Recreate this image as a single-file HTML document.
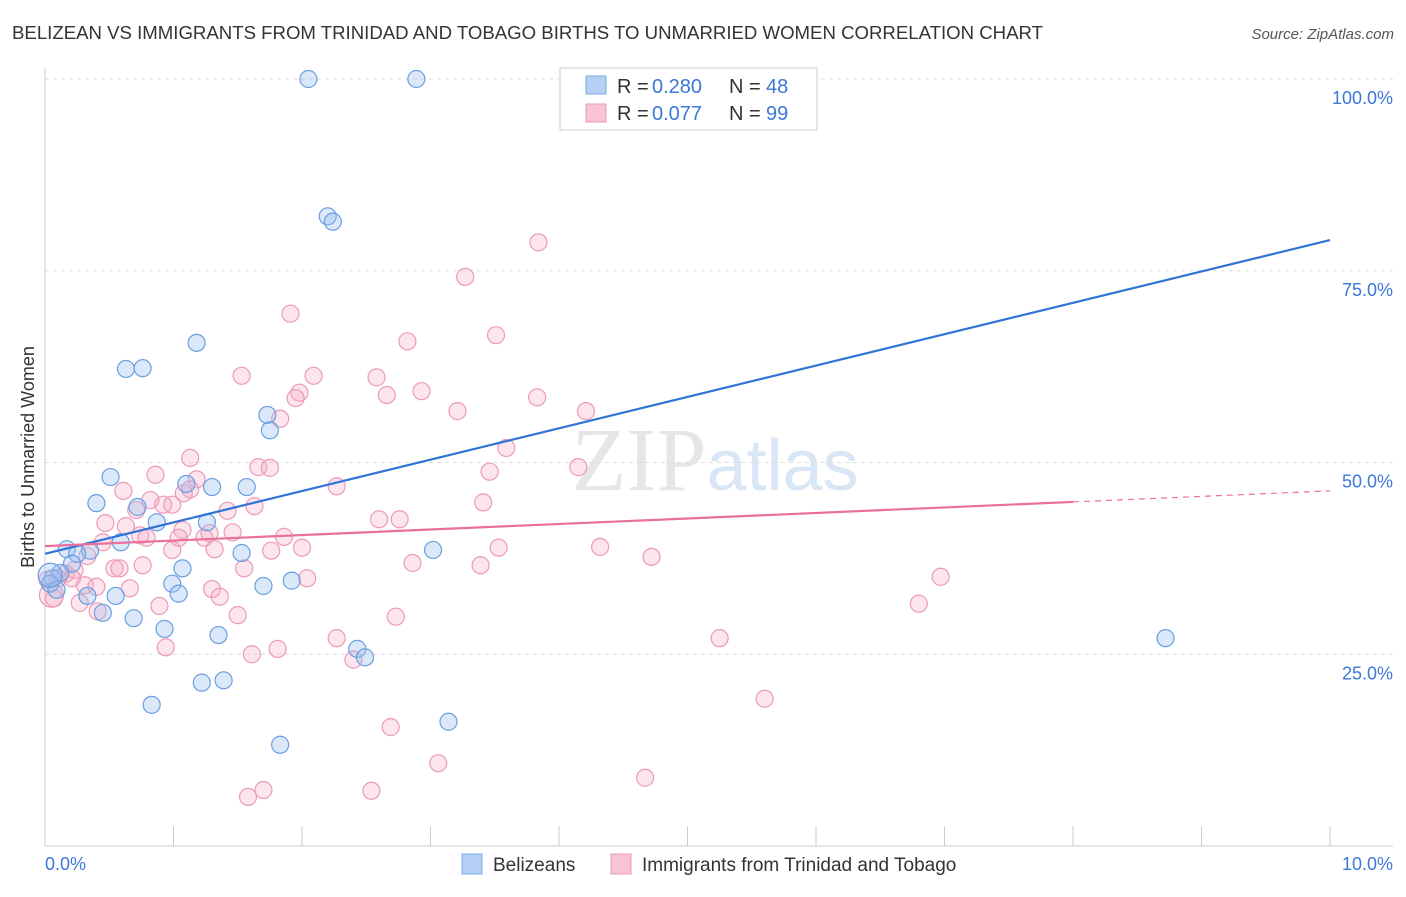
<!DOCTYPE html>
<html><head><meta charset="utf-8"><style>
body{margin:0;background:#fff;font-family:"Liberation Sans",sans-serif;}
</style></head><body>
<svg id="chart" width="1406" height="892" xmlns="http://www.w3.org/2000/svg" font-family="Liberation Sans, sans-serif">
<text x="12" y="39" font-size="18.5" fill="#333" textLength="1031" lengthAdjust="spacingAndGlyphs">BELIZEAN VS IMMIGRANTS FROM TRINIDAD AND TOBAGO BIRTHS TO UNMARRIED WOMEN CORRELATION CHART</text>
<text x="1394" y="39" font-size="15" fill="#555" text-anchor="end" font-style="italic">Source: ZipAtlas.com</text>
<text x="715" y="490" font-size="90" text-anchor="middle" fill="#e6e6e6" font-family="Liberation Serif, serif">ZIP<tspan fill="#d8e6f6" font-family="Liberation Sans, sans-serif" font-size="72">atlas</tspan></text>
<g id="grid"></g>
<g id="axes"></g>
<g id="pts"></g>
<g id="lines"></g>
<text transform="translate(34,457) rotate(-90)" font-size="18" fill="#333" text-anchor="middle">Births to Unmarried Women</text>
<g>
<rect x="560" y="68" width="257" height="62" fill="#fff" stroke="#ccc"/>
<rect x="586" y="76" width="20" height="18" fill="#b4d0f4" stroke="#7aa8e4"/>
<rect x="586" y="104" width="20" height="18" fill="#f8c4d4" stroke="#ec9ab8"/>
<text x="617" y="93" font-size="20" fill="#333">R =</text>
<text x="652" y="93" font-size="20" fill="#3b78d8">0.280</text>
<text x="729" y="93" font-size="20" fill="#333">N =</text>
<text x="766" y="93" font-size="20" fill="#3b78d8">48</text>
<text x="617" y="120" font-size="20" fill="#333">R =</text>
<text x="652" y="120" font-size="20" fill="#3b78d8">0.077</text>
<text x="729" y="120" font-size="20" fill="#333">N =</text>
<text x="766" y="120" font-size="20" fill="#3b78d8">99</text>
</g>
<g>
<rect x="462" y="854" width="20" height="20" fill="#b4d0f4" stroke="#7aa8e4"/>
<text x="493" y="871" font-size="19" fill="#333">Belizeans</text>
<rect x="611" y="854" width="20" height="20" fill="#f8c4d4" stroke="#ec9ab8"/>
<text x="642" y="871" font-size="19" fill="#333">Immigrants from Trinidad and Tobago</text>
</g>
</svg>
<script>
const blueX=[2.05,2.89,2.20,2.24,1.18,0.63,0.76,1.73,1.75,0.51,0.40,0.72,1.10,1.30,1.57,0.87,1.26,0.59,0.17,0.35,0.25,0.21,0.12,0.06,0.04,0.09,0.33,0.55,0.45,0.69,0.99,1.07,1.04,1.53,1.70,1.92,3.02,0.93,1.35,2.43,2.49,1.22,1.39,0.83,1.83,3.14,8.72,0.04];
const blueY=[100,100,82.1,81.4,65.6,62.2,62.3,56.2,54.2,48.1,44.7,44.2,47.2,46.8,46.8,42.2,42.2,39.6,38.7,38.5,38.1,36.8,35.6,34.9,34.2,33.4,32.6,32.6,30.4,29.7,34.2,36.2,32.9,38.2,33.9,34.6,38.6,28.3,27.5,25.7,24.6,21.3,21.6,18.4,13.2,16.2,27.1,35.3];
const pinkX=[3.84,3.27,1.91,3.51,2.82,1.53,2.09,2.58,2.93,1.98,1.95,2.66,3.83,3.21,4.21,1.83,3.59,1.13,1.66,1.75,4.15,3.46,0.86,1.18,2.27,0.61,1.08,1.13,0.82,0.92,0.71,0.99,1.63,3.41,1.42,2.6,2.76,0.47,0.63,1.07,1.28,1.46,0.74,1.04,1.24,1.86,0.45,0.79,0.99,1.32,2.0,1.76,3.53,4.32,4.72,0.33,2.86,3.39,0.76,0.54,0.58,1.55,0.23,0.16,0.10,0.02,0.21,2.04,6.97,0.31,0.40,0.66,1.30,1.36,0.07,0.27,0.89,6.80,0.41,1.50,2.73,2.27,5.25,0.94,1.61,1.81,2.40,5.60,2.69,3.06,4.67,1.70,1.58,2.54,0.05];
const pinkY=[78.7,74.2,69.4,66.6,65.8,61.3,61.3,61.1,59.3,59.1,58.4,58.8,58.5,56.7,56.7,55.7,51.9,50.6,49.4,49.3,49.4,48.8,48.4,47.8,46.9,46.3,46.0,46.5,45.1,44.5,43.8,44.5,44.3,44.8,43.7,42.6,42.6,42.1,41.7,41.2,40.8,40.9,40.5,40.2,40.2,40.3,39.6,40.2,38.6,38.7,38.9,38.5,38.9,39.0,37.7,37.8,36.9,36.6,36.6,36.2,36.2,36.2,36.0,35.5,34.9,34.7,34.9,34.9,35.1,34.0,33.8,33.6,33.5,32.5,32.3,31.7,31.3,31.6,30.6,30.1,29.9,27.1,27.1,25.9,25.0,25.7,24.3,19.2,15.5,10.8,8.9,7.3,6.4,7.2,32.7];
const yTicks=[100,75,50,25];
const yTickLabels=["100.0%","75.0%","50.0%","25.0%"];
const blueLine=[38.1,79.0];
const pinkLine=[39.1,46.3];
const NS="http://www.w3.org/2000/svg";
const sx=v=>45+v*128.5;
const sy=v=>846-v*7.67;
function mk(t,a,p){const e=document.createElementNS(NS,t);for(const k in a)e.setAttribute(k,a[k]);p.appendChild(e);return e;}
const grid=document.getElementById('grid'),axes=document.getElementById('axes'),pts=document.getElementById('pts'),lines=document.getElementById('lines');
yTicks.forEach((t,i)=>{
 const l=mk('line',{x1:45,x2:1393,y1:sy(t),y2:sy(t),stroke:'#ddd','stroke-dasharray':'4,4'},grid);
 
 
 const tx=mk('text',{x:1393,y:sy(t)+25,'font-size':18,fill:'#3b78d8','text-anchor':'end'},axes);
 tx.textContent=yTickLabels[i];
 
 
});
const ax=mk('line',{x1:45,x2:1393,y1:846,y2:846,stroke:'#ccc'},axes);


const ay=mk('line',{x1:45,x2:45,y1:68,y2:846,stroke:'#ccc'},axes);


for(let i=1;i<=10;i++){const tk=mk('line',{x1:sx(i),x2:sx(i),y1:826,y2:846,stroke:'#ccc'},axes);
 
 }
const xl0=mk('text',{x:45,y:870,'font-size':18,fill:'#3b78d8'},axes);xl0.textContent='0.0%';


const xl1=mk('text',{x:1393,y:870,'font-size':18,fill:'#3b78d8','text-anchor':'end'},axes);xl1.textContent='10.0%';


pinkX.forEach((x,i)=>{const c=mk('circle',{cx:sx(x),cy:sy(pinkY[i]),r:i==pinkX.length-1?12:8.5,fill:'rgba(244,170,196,0.3)',stroke:'#ec9ab8','stroke-width':1.2},pts);
 
 });
blueX.forEach((x,i)=>{const c=mk('circle',{cx:sx(x),cy:sy(blueY[i]),r:i==blueX.length-1?12:8.5,fill:'rgba(150,190,240,0.35)',stroke:'#6a9fe0','stroke-width':1.2},pts);
 
 });
const bl=mk('line',{x1:sx(0),y1:sy(blueLine[0]),x2:sx(10),y2:sy(blueLine[1]),stroke:'#2f74d6','stroke-width':2.2},lines);


const pm=pinkLine[0]+(pinkLine[1]-pinkLine[0])*0.8;
const pl=mk('line',{x1:sx(0),y1:sy(pinkLine[0]),x2:sx(8),y2:sy(pm),stroke:'#e8709a','stroke-width':2.2},lines);


const pd=mk('line',{x1:sx(8),y1:sy(pm),x2:sx(10),y2:sy(pinkLine[1]),stroke:'#e8709a','stroke-width':1.2,'stroke-dasharray':'6,5'},lines);


</script>
</body></html>
